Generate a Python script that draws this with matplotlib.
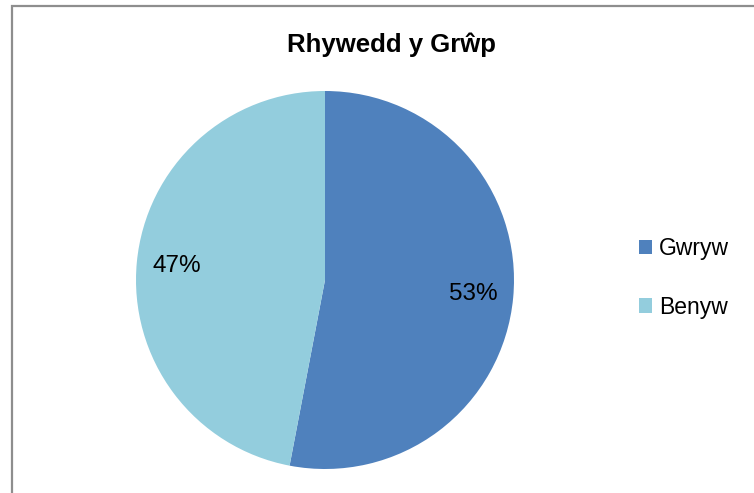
import matplotlib.pyplot as plt
from matplotlib.patches import Rectangle, Patch

# data
labels = ["Gwryw", "Benyw"]
shares = [53, 47]
colors = ["#4F81BD", "#93CDDD"]
title = "Rhywedd y Grŵp"

plt.rcParams["font.family"] = ["Liberation Sans", "DejaVu Sans"]

W, H = 754, 493
fig = plt.figure(figsize=(W / 100, H / 100), dpi=100)

# chart frame (only left and top edges visible)
fig.patches.append(Rectangle((11.5 / W, -0.1), 1.2, (H - 6.5) / H + 0.1,
                             transform=fig.transFigure, fill=False,
                             edgecolor="#8e8e8e", linewidth=1.6))

# pie centred at (325, 280) px with radius 189 px
cx, cy, r = 325, 280, 189
ax = fig.add_axes([(cx - r) / W, (H - cy - r) / H, 2 * r / W, 2 * r / H])
wedges, texts, autotexts = ax.pie(shares, colors=colors, startangle=90,
                                  counterclock=False, autopct="%1.0f%%",
                                  pctdistance=0.79,
                                  textprops={"fontsize": 17.5, "color": "black"})
ax.set_xlim(-1, 1)
ax.set_ylim(-1, 1)
ax.set_aspect("equal")

fig.text(391 / W, 1 - 45 / H, title, ha="center", va="center",
         fontsize=18.5, fontweight="bold")

handles = [Patch(facecolor=c, edgecolor="none") for c in colors]
fig.legend(handles, labels, loc="center left",
           bbox_to_anchor=(618 / W, 1 - 278 / H), frameon=False,
           fontsize=16.5, handlelength=0.6, handleheight=0.6,
           handletextpad=0.3, labelspacing=1.55)

fig.savefig("out.png", dpi=100)
